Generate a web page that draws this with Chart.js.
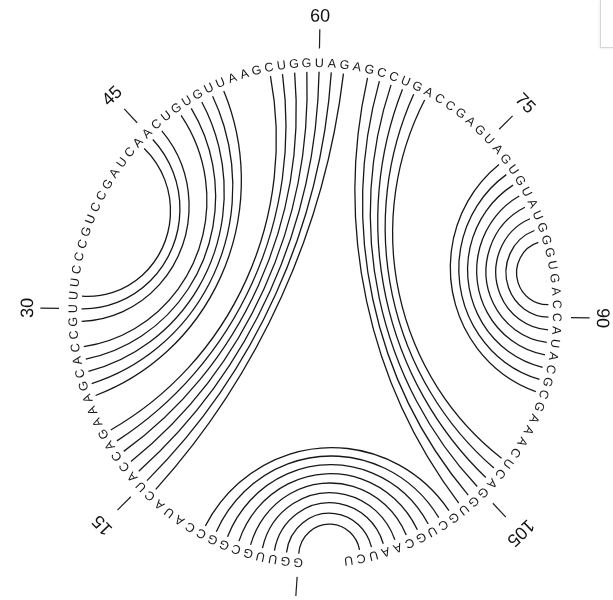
<!DOCTYPE html>
<html>
<head>
<meta charset="utf-8">
<script src="https://cdn.jsdelivr.net/npm/chart.js@4/dist/chart.umd.min.js"></script>
<style>
  html, body { margin: 0; padding: 0; background: #ffffff; }
  #wrap { position: relative; width: 613px; height: 600px; overflow: hidden; }
  canvas { display: block; }
  .frame {
    position: absolute; left: 600px; top: 0; width: 20px; height: 47px;
    border-left: 1px solid #d6d6d6; border-bottom: 1px solid #d6d6d6;
    box-shadow: -1px 1px 2px rgba(0,0,0,0.06);
  }
</style>
</head>
<body>
<div id="wrap">
  <canvas id="chart" width="613" height="600"></canvas>
  <div class="frame"></div>
</div>
<script>
// 5S rRNA, 5' -> 3', laid out clockwise starting at the bottom of the circle
const sequence = "GGUUGCGGCCAUACUACCAGAAAGCACCGUUUCCCGUCCGAUCAACUGUGUUAAGCUGGUAGAGCCUGACCGAGUAGUGUAUGGGUGACCAUACGCGAAACUCAGGUGCUGCAAUCU";
const bases = sequence.split("");

// Base pairs of each helix: 5' partner / 3' partner (1-based positions)
const helixI_5   = [1, 2, 3, 4, 5, 6, 7, 8, 9];
const helixI_3   = [116, 115, 114, 113, 112, 111, 110, 109, 108];
const helixII_5  = [14, 15, 16, 17, 18, 19, 20];
const helixII_3  = [62, 61, 60, 59, 58, 57, 56];
const helixIII_5 = [23, 24, 25, 26, 27, 29, 30, 31];
const helixIII_3 = [52, 51, 50, 49, 48, 46, 45, 44];
const helixIV_5  = [77, 78, 79, 80, 81, 82, 83, 84];
const helixIV_3  = [96, 95, 94, 93, 92, 91, 90, 89];
const helixV_5   = [64, 65, 66, 67, 68, 69];
const helixV_3   = [107, 106, 105, 104, 103, 102];

// Numbered positions around the rim
const tickPositions = [1, 15, 30, 45, 60, 75, 90, 105];
const tickLabels    = ["", "15", "30", "45", "60", "75", "90", "105"];

// ---- layout ----
const START_DEG = 4.0;     // angle of base 1, clockwise from the bottom
const STEP_DEG = 3.0;      // angular spacing between bases
const R_BASE = 1.0;        // radius of base letters
const R_ARC = 0.965;       // radius where pairing arcs start
const R_TICK_IN = 1.058, R_TICK_OUT = 1.135;
// numbers sit a little further out on the lower half of the rim
function labelRadius(pos) {
  const c = Math.cos(angleOf(pos));
  return 1.185 + (c > 0 ? 0.05 * c : 0.02 * -c * Math.abs(Math.sin(angleOf(pos))) * 2);
}

function angleOf(pos) {
  return (START_DEG + (pos - 1) * STEP_DEG) * Math.PI / 180;
}
function polar(pos, r) {
  const t = angleOf(pos);
  return { x: -r * Math.sin(t), y: -r * Math.cos(t) };
}

const allPairs = [
  [helixI_5, helixI_3], [helixII_5, helixII_3], [helixIII_5, helixIII_3],
  [helixIV_5, helixIV_3], [helixV_5, helixV_3]
].flatMap(([a, b]) => a.map((p, k) => [p, b[k]]));

// Adds the circle-orthogonal arc joining two rim positions to the current path (unit space)
function addArc(ctx, p, q) {
  const A = polar(p, R_ARC), B = polar(q, R_ARC);
  const mx = A.x + B.x, my = A.y + B.y;
  const ml = Math.hypot(mx, my);
  ctx.moveTo(A.x, A.y);
  if (ml < 1e-3) { ctx.lineTo(B.x, B.y); return; }
  const cosA = ml / (2 * R_ARC);
  const alpha = Math.acos(Math.min(1, cosA));
  const d = R_ARC / cosA;
  const ox = mx / ml * d, oy = my / ml * d;
  const rho = R_ARC * Math.tan(alpha);
  const a1 = Math.atan2(A.y - oy, A.x - ox);
  const a2 = Math.atan2(B.y - oy, B.x - ox);
  let delta = a2 - a1;
  while (delta > Math.PI) delta -= 2 * Math.PI;
  while (delta <= -Math.PI) delta += 2 * Math.PI;
  ctx.arc(ox, oy, rho, a1, a2, delta < 0);
}

const rnaCircle = {
  id: 'rnaCircle',
  afterDatasetsDraw(chart) {
    const { ctx } = chart;
    const xs = chart.scales.x, ys = chart.scales.y;
    const cx = xs.getPixelForValue(0), cy = ys.getPixelForValue(0);
    const sx = xs.getPixelForValue(1) - cx, sy = ys.getPixelForValue(1) - cy;
    const px = (pt) => ({ x: xs.getPixelForValue(pt.x), y: ys.getPixelForValue(pt.y) });

    // pairing arcs
    ctx.save();
    ctx.beginPath();
    ctx.save();
    ctx.transform(sx, 0, 0, sy, cx, cy);
    allPairs.forEach(([p, q]) => addArc(ctx, p, q));
    ctx.restore();
    ctx.lineWidth = 1.3;
    ctx.strokeStyle = '#181818';
    ctx.stroke();
    ctx.restore();

    // base letters, placed on the scatter points
    const meta = chart.getDatasetMeta(0);
    ctx.save();
    ctx.fillStyle = '#1a1a1a';
    ctx.font = '12.5px "Liberation Sans", Arial, Helvetica, sans-serif';
    ctx.textAlign = 'center';
    ctx.textBaseline = 'middle';
    meta.data.forEach((el, k) => {
      ctx.save();
      ctx.translate(el.x, el.y);
      ctx.rotate(angleOf(k + 1) + Math.PI);
      ctx.fillText(bases[k], 0, 0.5);
      ctx.restore();
    });
    ctx.restore();

    // position ticks and numbers
    ctx.save();
    ctx.strokeStyle = '#1e1e1e';
    ctx.lineWidth = 1.2;
    ctx.fillStyle = '#111';
    ctx.font = '18px "Liberation Sans", Arial, Helvetica, sans-serif';
    ctx.textAlign = 'center';
    ctx.textBaseline = 'middle';
    tickPositions.forEach((pos, k) => {
      const a = px(polar(pos, R_TICK_IN)), b = px(polar(pos, R_TICK_OUT));
      ctx.beginPath();
      ctx.moveTo(a.x, a.y);
      ctx.lineTo(b.x, b.y);
      ctx.stroke();
      if (tickLabels[k]) {
        const c = px(polar(pos, labelRadius(pos)));
        ctx.save();
        ctx.translate(c.x, c.y);
        ctx.rotate(angleOf(pos) + Math.PI);
        ctx.fillText(tickLabels[k], 0, 0);
        ctx.restore();
      }
    });
    ctx.restore();
  }
};

new Chart(document.getElementById('chart'), {
  type: 'scatter',
  data: {
    datasets: [{
      label: 'bases',
      data: bases.map((b, k) => polar(k + 1, R_BASE)),
      pointRadius: 0,
      pointHoverRadius: 0
    }]
  },
  options: {
    responsive: false,
    devicePixelRatio: 1,
    animation: false,
    layout: { padding: { left: 24.6, right: 7.6, top: 28, bottom: 2 } },
    scales: {
      x: { type: 'linear', min: -1.2, max: 1.2, display: false },
      y: { type: 'linear', min: -1.14, max: 1.14, display: false }
    },
    plugins: { legend: { display: false }, tooltip: { enabled: false } }
  },
  plugins: [rnaCircle]
});
</script>
</body>
</html>
